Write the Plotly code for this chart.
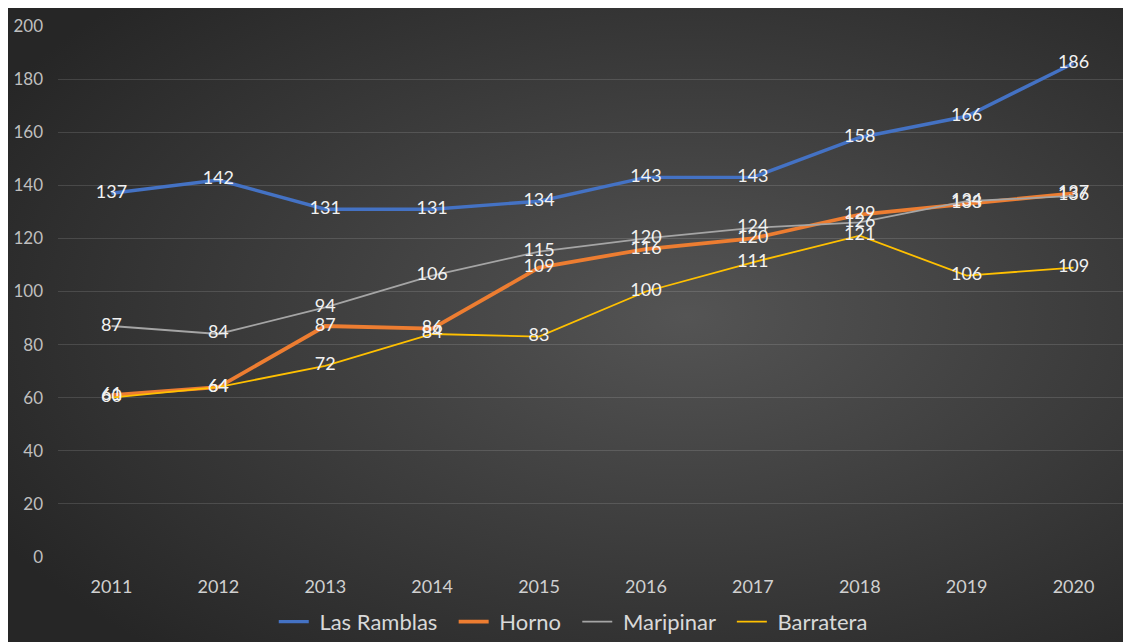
import base64
import plotly.graph_objects as go

years = ['2011', '2012', '2013', '2014', '2015', '2016', '2017', '2018', '2019', '2020']
las_ramblas = [137, 142, 131, 131, 134, 143, 143, 158, 166, 186]
horno = [61, 64, 87, 86, 109, 116, 120, 129, 133, 137]
maripinar = [87, 84, 94, 106, 115, 120, 124, 126, 134, 136]
barratera = [60, 64, 72, 84, 83, 100, 111, 121, 106, 109]

series = [
    ('Las Ramblas', las_ramblas, '#4472C4', 3.4),
    ('Horno', horno, '#ED7D31', 3.8),
    ('Maripinar', maripinar, '#A5A5A5', 1.8),
    ('Barratera', barratera, '#FFC000', 1.8),
]

W, H = 1131, 642
L, R, T, B = 50, 12, 18, 93
pw = W - L - R
ph = H - T - B

# dark radial background like the Excel chart style
svg = ('<svg xmlns="http://www.w3.org/2000/svg" width="%d" height="%d" preserveAspectRatio="none">'
       '<defs><radialGradient id="g" cx="60%%" cy="48%%" r="70%%">'
       '<stop offset="0%%" stop-color="#545454"/><stop offset="100%%" stop-color="#262626"/>'
       '</radialGradient></defs><rect width="%d" height="%d" fill="url(#g)"/></svg>') % (W, H, W, H)
bg_src = 'data:image/svg+xml;base64,' + base64.b64encode(svg.encode()).decode()

nb = '\u00a0'
fig = go.Figure()
for i, (name, vals, color, w) in enumerate(series):
    # pad legend labels a bit so the spacing looks like the Excel legend
    label = nb + name + (nb * 2 if i < len(series) - 1 else '')
    fig.add_trace(go.Scatter(
        x=years, y=vals, name=label, mode='lines+text',
        line=dict(color=color, width=w),
        text=[str(v) for v in vals], textposition='middle center',
        textfont=dict(color='#F2F2F2', size=18, family='Lato'),
    ))

fig.add_layout_image(dict(
    source=bg_src, xref='paper', yref='paper',
    x=-L / pw, y=1 + T / ph, sizex=W / pw, sizey=H / ph,
    sizing='stretch', xanchor='left', yanchor='top', layer='below'))

fig.update_layout(
    width=W, height=H,
    margin=dict(l=L, r=R, t=T, b=B, autoexpand=False),
    paper_bgcolor='#2a2a2a', plot_bgcolor='rgba(0,0,0,0)',
    font=dict(family='Lato', color='#BFBFBF'),
    showlegend=True,
    legend=dict(orientation='h', x=0.482, xanchor='center', y=-0.122, yanchor='middle',
                font=dict(size=22, color='#D9D9D9'), bgcolor='rgba(0,0,0,0)',
                itemwidth=30),
    xaxis=dict(showgrid=False, zeroline=False, showline=False, ticks='', automargin=False,
               tickfont=dict(size=18, color='#D0D0D0'), ticklabelstandoff=17),
    yaxis=dict(range=[0, 200], dtick=20, showgrid=True, gridcolor='rgba(255,255,255,0.13)',
               gridwidth=1, zeroline=False, showline=False, ticks='', automargin=False,
               tickfont=dict(size=17, color='#BFBFBF'), ticklabelstandoff=14),
)

fig.write_html('out.html')
